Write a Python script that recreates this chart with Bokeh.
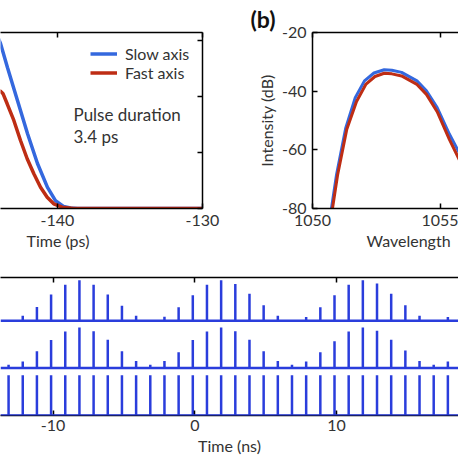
from bokeh.plotting import figure
from bokeh.models import (Range1d, LinearAxis, FixedTicker, Label, Legend,
                          LegendItem, Span, Title)
from bokeh.layouts import column, row
from bokeh.embed import file_html
from bokeh.resources import INLINE

# ---------------- data ----------------
# (a) pulse profile, normalised intensity vs time (ps)
pulse_time_slow = [-144.4, -143.93, -143.45, -142.76, -142.07, -141.38, -140.69,
                   -140.14, -139.59, -139.1, -138.62, -130.0]
pulse_int_slow = [1.62, 1.473, 1.259, 0.964, 0.670, 0.402, 0.188,
                  0.071, 0.018, 0.004, 0.0, 0.0]
pulse_time_fast = [-144.6, -144.3, -143.93, -143.75, -143.47, -143.01, -142.55,
                   -142.09, -141.63, -141.17, -140.71, -140.26, -139.68,
                   -138.88, -130.0]
pulse_int_fast = [1.05, 1.06, 1.047, 1.024, 0.935, 0.786, 0.607,
                  0.444, 0.310, 0.190, 0.101, 0.042, 0.012,
                  0.0, 0.0]

# (b) spectrum, intensity (dB) vs wavelength (nm)
wl_slow = [1050.74, 1050.94, 1051.30, 1051.67, 1052.03, 1052.4, 1052.8,
           1053.1, 1053.48, 1054.08, 1054.45, 1054.87, 1055.35, 1055.77, 1056.0]
db_slow = [-80.0, -68.4, -52.5, -42.2, -36.5, -33.8, -32.7,
           -32.9, -33.6, -36.5, -39.9, -45.6, -54.7, -61.6, -65.0]
wl_fast = [1050.78, 1050.98, 1051.34, 1051.72, 1052.08, 1052.44, 1052.8,
           1053.1, 1053.48, 1054.08, 1054.45, 1054.87, 1055.35, 1055.77, 1056.0]
db_fast = [-80.0, -68.6, -53.0, -43.5, -37.7, -35.0, -33.9,
           -34.1, -34.8, -37.7, -41.1, -47.0, -56.5, -64.0, -67.5]

# (c) pulse trains vs time (ns)
train_time = [-13.14, -12.14, -11.14, -10.14, -9.14, -8.14, -7.14, -6.14, -5.14,
              -4.14, -3.14, -2.14, -1.14, -0.14, 0.86, 1.86, 2.86, 3.86, 4.86,
              5.86, 6.86, 7.86, 8.86, 9.86, 10.86, 11.86, 12.86, 13.86, 14.86,
              15.86, 16.86, 17.86, 18.86]
train_top = [0.0, 0.12, 0.34, 0.65, 0.89, 1.0, 0.89, 0.65, 0.37, 0.12, 0.0,
             0.10, 0.33, 0.63, 0.89, 1.0, 0.91, 0.67, 0.38, 0.12, 0.0,
             0.09, 0.33, 0.63, 0.89, 1.0, 0.92, 0.67, 0.38, 0.12, 0.0,
             0.09, 0.31]
train_mid = [0.08, 0.16, 0.41, 0.69, 0.90, 1.0, 0.91, 0.70, 0.41, 0.17, 0.08,
             0.17, 0.39, 0.69, 0.90, 1.0, 0.91, 0.70, 0.41, 0.17, 0.08,
             0.16, 0.39, 0.66, 0.90, 1.0, 0.92, 0.70, 0.43, 0.17, 0.08,
             0.16, 0.37]
train_bot = [1.0, 1.0, 1.0, 1.0, 1.0, 1.0, 1.0, 1.0, 1.0, 1.0, 1.0,
             1.0, 1.0, 1.0, 1.0, 1.0, 1.0, 1.0, 1.0, 1.0, 1.0,
             1.0, 1.0, 1.0, 1.0, 1.0, 1.0, 1.0, 1.0, 1.0, 1.0,
             1.0, 1.0]

a_xticks = [-150, -140, -130]
a_yticks = [0, 0.5, 1.0, 1.5]
b_xticks = [1050, 1055, 1060]
b_yticks = [-80, -60, -40, -20]
c_xticks = [-20, -10, 0, 10, 20]

# ---------------- style ----------------
FONT = "Lato"
TXT = "#333333"
BLUE = "#3468de"
RED = "#be2d14"
TRAIN = "#2a3ddc"


def style_axis(ax, ticks, labels=True, standoff=4):
    ax.ticker = FixedTicker(ticks=ticks)
    ax.axis_line_color = "black"
    ax.axis_line_width = 1.5
    ax.major_tick_line_color = "black"
    ax.major_tick_line_width = 1.5
    ax.major_tick_in = 5
    ax.major_tick_out = 0
    ax.minor_tick_line_color = None
    ax.major_label_text_font = FONT
    ax.major_label_text_font_size = "16px"
    ax.major_label_text_color = TXT
    if labels:
        ax.major_label_overrides = {t: "%g" % t for t in ticks}
        ax.major_label_standoff = standoff
    else:
        ax.major_label_overrides = {t: "" for t in ticks}
        ax.major_label_standoff = 0


def base_fig(w, h, xr, yr, **borders):
    p = figure(width=w, height=h, x_range=xr, y_range=yr,
               output_backend="svg", toolbar_location=None,
               x_axis_location=None, y_axis_location=None, **borders)
    p.outline_line_color = None
    p.xgrid.visible = False
    p.ygrid.visible = False
    p.background_fill_color = "white"
    p.border_fill_color = "white"
    return p


def text_title(text, align, offset, size="16px", style="normal", color=TXT):
    return Title(text=text, align=align, offset=offset, standoff=0,
                 text_font=FONT, text_font_size=size, text_font_style=style,
                 text_color=color)


# ---------------- panel (a) ----------------
fa = base_fig(245, 253, Range1d(-143.93, -130.0), Range1d(0, 1.5714),
              min_border_left=0, min_border_right=43,
              min_border_top=32, min_border_bottom=45)
ax = LinearAxis(); style_axis(ax, a_xticks, standoff=6); fa.add_layout(ax, "below")
fa.add_layout(text_title("Time (ps)", "left", 26), "below")
ax = LinearAxis(); style_axis(ax, a_xticks, False); fa.add_layout(ax, "above")
ax = LinearAxis(); style_axis(ax, a_yticks, False); fa.add_layout(ax, "right")
r_slow = fa.line(pulse_time_slow, pulse_int_slow, line_color=BLUE, line_width=3.5)
r_fast = fa.line(pulse_time_fast, pulse_int_fast, line_color=RED, line_width=3.5)
leg = Legend(items=[LegendItem(label="Slow axis", renderers=[r_slow]),
                    LegendItem(label="Fast axis", renderers=[r_fast])],
             location=(90, 126), glyph_width=27, glyph_height=19,
             label_height=19, label_standoff=8, padding=0, spacing=0,
             border_line_color=None, background_fill_alpha=0,
             label_text_font=FONT, label_text_font_size="16px",
             label_text_color=TXT)
fa.add_layout(leg)
for txt, yy in (("Pulse duration", 94), ("3.4 ps", 72)):
    fa.add_layout(Label(x=73, y=yy, x_units="screen", y_units="screen", text=txt,
                        text_font=FONT, text_font_size="17px", text_color=TXT,
                        text_baseline="middle", text_align="left"))

# ---------------- panel (b) ----------------
fb = base_fig(213, 253, Range1d(1050, 1055.703), Range1d(-80, -20),
              min_border_left=67, min_border_right=0,
              min_border_top=32, min_border_bottom=45)
ax = LinearAxis(); style_axis(ax, b_xticks, standoff=6); fb.add_layout(ax, "below")
fb.add_layout(text_title("Wavelength", "left", 54), "below")
ax = LinearAxis(); style_axis(ax, b_xticks, False); fb.add_layout(ax, "above")
fb.add_layout(text_title("(b)", "left", -62, size="23px", style="bold",
                         color="#111111"), "above")
ax = LinearAxis(); style_axis(ax, b_yticks, standoff=6)
ax.axis_label = "Intensity (dB)"
ax.axis_label_text_font = FONT
ax.axis_label_text_font_size = "16px"
ax.axis_label_text_font_style = "normal"
ax.axis_label_text_color = TXT
ax.axis_label_standoff = 3
fb.add_layout(ax, "left")
fb.line(wl_slow, db_slow, line_color=BLUE, line_width=3)
fb.line(wl_fast, db_fast, line_color=RED, line_width=3)

# ---------------- panel (c) ----------------
OFF_TOP, OFF_MID, OFF_BOT = 2.35, 1.18, 0.0
fc = base_fig(458, 205, Range1d(-13.71, 18.61), Range1d(0, 3.42),
              min_border_left=0, min_border_right=0,
              min_border_top=24, min_border_bottom=43)
for off, hts in ((OFF_TOP, train_top), (OFF_MID, train_mid), (OFF_BOT, train_bot)):
    fc.add_layout(Span(location=off, dimension="width", line_color=TRAIN,
                       line_width=2.5))
    fc.segment(x0=train_time, y0=[off] * len(hts), x1=train_time,
               y1=[off + h for h in hts], line_color=TRAIN, line_width=2.5)
ax = LinearAxis(); style_axis(ax, c_xticks, standoff=4); fc.add_layout(ax, "below")
fc.add_layout(text_title("Time (ns)", "center", 3), "below")
ax = LinearAxis(); style_axis(ax, c_xticks, False); fc.add_layout(ax, "above")

layout = column(row(fa, fb), fc)
open("out.html", "w").write(file_html(layout, INLINE))
